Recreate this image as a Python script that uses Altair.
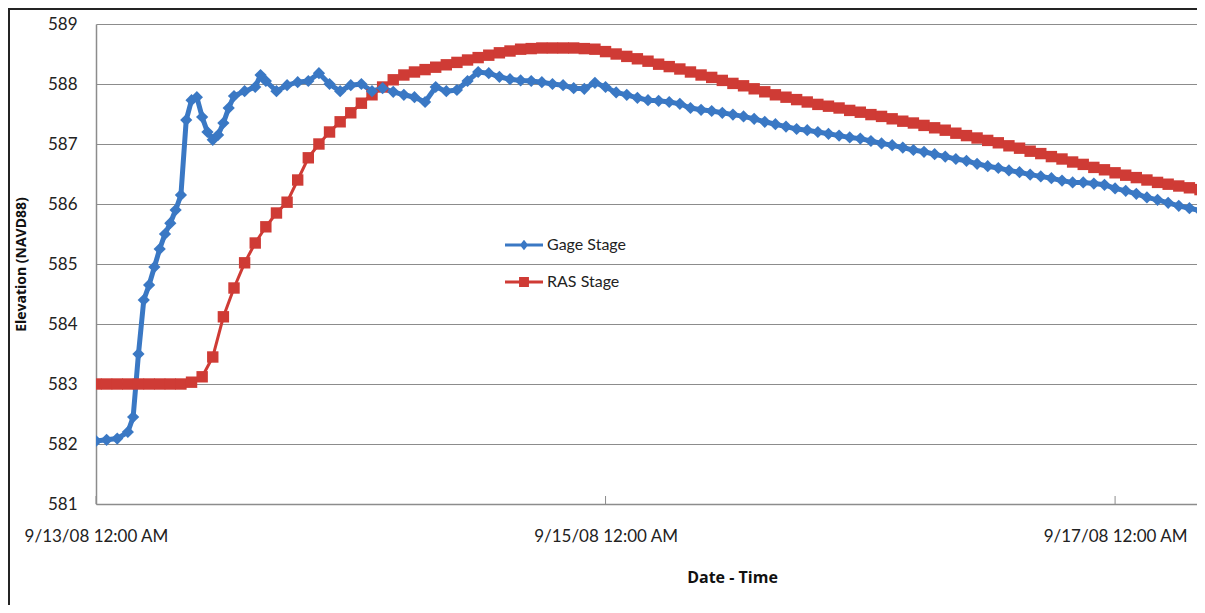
import altair as alt
import pandas as pd

START = pd.Timestamp("2008-09-13 00:00")

# Gage Stage: hours after 9/13/08 00:00 and elevations
gage_hours = [0, 1, 2, 3, 3.5, 4, 4.5, 5, 5.5, 6, 6.5, 7, 7.5, 8, 8.5, 9, 9.5, 10, 10.5, 11,
              11.5, 12, 12.5, 13, 14, 15, 15.5, 16, 17, 18, 19, 20, 21, 22, 23, 24, 25, 26,
              27, 28, 29, 30, 31, 32, 33, 34, 35, 36, 37, 38, 39, 40, 41, 42, 43, 44, 45,
              46, 47, 48, 49, 50, 51, 52, 53, 54, 55, 56, 57, 58, 59, 60, 61, 62, 63, 64,
              65, 66, 67, 68, 69, 70, 71, 72, 73, 74, 75, 76, 77, 78, 79, 80, 81, 82, 83,
              84, 85, 86, 87, 88, 89, 90, 91, 92, 93, 94, 95, 96, 97, 98, 99, 100, 101,
              102, 103, 104]
gage_stage = [582.05, 582.07, 582.09, 582.2, 582.45, 583.5, 584.4, 584.65, 584.95, 585.25,
              585.5, 585.68, 585.9, 586.15, 587.4, 587.73, 587.78, 587.45, 587.2, 587.07,
              587.15, 587.35, 587.6, 587.8, 587.88, 587.95, 588.15, 588.05, 587.88, 587.98,
              588.03, 588.05, 588.18, 588.0, 587.88, 587.98, 588.0, 587.88, 587.93, 587.87,
              587.82, 587.78, 587.7, 587.95, 587.88, 587.9, 588.05, 588.2, 588.18, 588.12,
              588.08, 588.06, 588.05, 588.03, 588.0, 587.98, 587.93, 587.92, 588.02, 587.95,
              587.86, 587.82, 587.77, 587.73, 587.72, 587.7, 587.67, 587.6, 587.57, 587.55,
              587.52, 587.49, 587.46, 587.42, 587.37, 587.33, 587.29, 587.25, 587.23, 587.2,
              587.17, 587.14, 587.11, 587.09, 587.05, 587.01, 586.98, 586.94, 586.9, 586.87,
              586.83, 586.79, 586.75, 586.72, 586.67, 586.63, 586.6, 586.56, 586.53, 586.49,
              586.46, 586.43, 586.39, 586.36, 586.36, 586.34, 586.32, 586.26, 586.22, 586.17,
              586.11, 586.07, 586.02, 585.97, 585.93, 585.89]

# RAS Stage: hourly from 9/13/08 00:00
ras_stage = [583.0, 583.0, 583.0, 583.0, 583.0, 583.0, 583.0, 583.0, 583.0, 583.03,
             583.12, 583.45, 584.12, 584.6, 585.02, 585.35, 585.62, 585.85, 586.03, 586.4,
             586.77, 587.0, 587.2, 587.37, 587.52, 587.68, 587.82, 587.95, 588.07, 588.15,
             588.2, 588.24, 588.28, 588.32, 588.36, 588.4, 588.44, 588.48, 588.52, 588.55,
             588.58, 588.59, 588.6, 588.6, 588.6, 588.6, 588.59, 588.58, 588.54, 588.5,
             588.46, 588.42, 588.38, 588.33, 588.29, 588.25, 588.2, 588.15, 588.11, 588.06,
             588.01, 587.97, 587.92, 587.87, 587.82, 587.78, 587.74, 587.7, 587.66, 587.63,
             587.6, 587.56, 587.53, 587.49, 587.46, 587.42, 587.38, 587.35, 587.31, 587.27,
             587.23, 587.18, 587.14, 587.1, 587.06, 587.02, 586.97, 586.93, 586.88, 586.84,
             586.79, 586.75, 586.7, 586.66, 586.61, 586.57, 586.52, 586.48, 586.44, 586.4,
             586.36, 586.33, 586.3, 586.27, 586.24]

series_names = ["Gage Stage", "RAS Stage"]
series_colors = ["#3A78C4", "#CF3B35"]
tick_dates = ["2008-09-13T00:00:00", "2008-09-15T00:00:00", "2008-09-17T00:00:00"]
y_ticks = [581, 582, 583, 584, 585, 586, 587, 588, 589]

gage_df = pd.DataFrame({
    "time": [START + pd.Timedelta(hours=h) for h in gage_hours],
    "elev": gage_stage,
    "series": series_names[0],
})
ras_df = pd.DataFrame({
    "time": [START + pd.Timedelta(hours=h) for h in range(len(ras_stage))],
    "elev": ras_stage,
    "series": series_names[1],
})
df = pd.concat([gage_df, ras_df], ignore_index=True)

FONT = "Lato"
TFONT = "Open Sans"
x_scale = alt.Scale(domain=["2008-09-13T00:00:00", "2008-09-17T07:43:00"])
y_scale = alt.Scale(domain=[581, 589], nice=False)

x_enc = alt.X("time:T", scale=x_scale,
              axis=alt.Axis(values=tick_dates, format="%-m/%-d/%y %I:%M %p",
                            title="Date - Time", grid=False, ticks=False,
                            domainColor="#8c8c8c", domainWidth=1.5,
                            labelFont=FONT, labelFontSize=17, labelColor="#222",
                            labelPadding=24, labelFlush=False,
                            titleFont=TFONT, titleFontSize=16, titleFontWeight="bold",
                            titleColor="#111", titleX=636, titleY=65))
y_enc = alt.Y("elev:Q", scale=y_scale,
              axis=alt.Axis(values=y_ticks, title="Elevation (NAVD88)", format="d",
                            grid=True, gridColor="#8c8c8c", gridWidth=1.2, ticks=False,
                            domainColor="#8c8c8c", domainWidth=1.5,
                            labelFont=FONT, labelFontSize=17, labelColor="#222",
                            labelPadding=19,
                            titleFont=TFONT, titleFontSize=14, titleFontWeight="bold",
                            titleColor="#111", titleX=-68, titleY=240))

gage_path = "M-1,-0.08L1,-0.08L1,0.08L-1,0.08Z M0,-0.28L0.22,0L0,0.28L-0.22,0Z"
ras_path = "M-1,-0.08L1,-0.08L1,0.08L-1,0.08Z M-0.26,-0.26L0.26,-0.26L0.26,0.26L-0.26,0.26Z"

legend = alt.Legend(title=None, orient="none", legendX=409, legendY=202,
                    labelFont=FONT, labelFontSize=16, labelColor="#222",
                    rowPadding=10, symbolSize=1444, symbolStrokeWidth=0,
                    labelOffset=4, symbolOpacity=1)

gage_line = alt.Chart(gage_df).mark_line(strokeWidth=5, color=series_colors[0], clip=True).encode(
    x=x_enc, y=y_enc)
gage_pts = alt.Chart(gage_df).mark_point(shape="diamond", filled=True, size=150, opacity=1,
                                          color=series_colors[0], clip=True).encode(
    x="time:T", y="elev:Q")
ras_line = alt.Chart(ras_df).mark_line(strokeWidth=3, color=series_colors[1], clip=True).encode(
    x="time:T", y="elev:Q")
ras_pts = alt.Chart(ras_df).mark_point(shape="square", filled=True, size=130, opacity=1,
                                        color=series_colors[1], clip=True).encode(
    x="time:T", y="elev:Q")

legend_layer = alt.Chart(df).transform_filter("false").mark_point(
    filled=True, size=1444, opacity=1).encode(
    x="time:T", y="elev:Q",
    color=alt.Color("series:N", scale=alt.Scale(domain=series_names, range=series_colors),
                    legend=legend),
    shape=alt.Shape("series:N", scale=alt.Scale(domain=series_names, range=[gage_path, ras_path]),
                    legend=legend),
)

tick_df = pd.DataFrame({"t": pd.to_datetime(tick_dates)})
xticks = alt.Chart(tick_df).mark_rule(color="#8c8c8c", strokeWidth=1).encode(
    x="t:T", y=alt.value(472), y2=alt.value(480))

frame_left = alt.Chart(tick_df).mark_rule(color="#222", strokeWidth=1.5).encode(
    x=alt.value(-87), y=alt.value(-16), y2=alt.value(581))
frame_top = alt.Chart(tick_df).mark_rule(color="#222", strokeWidth=1.5).encode(
    x=alt.value(-88), x2=alt.value(1101), y=alt.value(-15))

chart = alt.layer(gage_line, ras_line, ras_pts, gage_pts, legend_layer, xticks,
                  frame_left, frame_top).properties(
    width=1101, height=480,
    padding={"left": 88, "top": 16, "right": 0, "bottom": 101},
    autosize=alt.AutoSizeParams(type="none"),
    background="white",
).configure_view(stroke=None)

chart.save("out.html", embed_options={"renderer": "svg", "actions": False})
